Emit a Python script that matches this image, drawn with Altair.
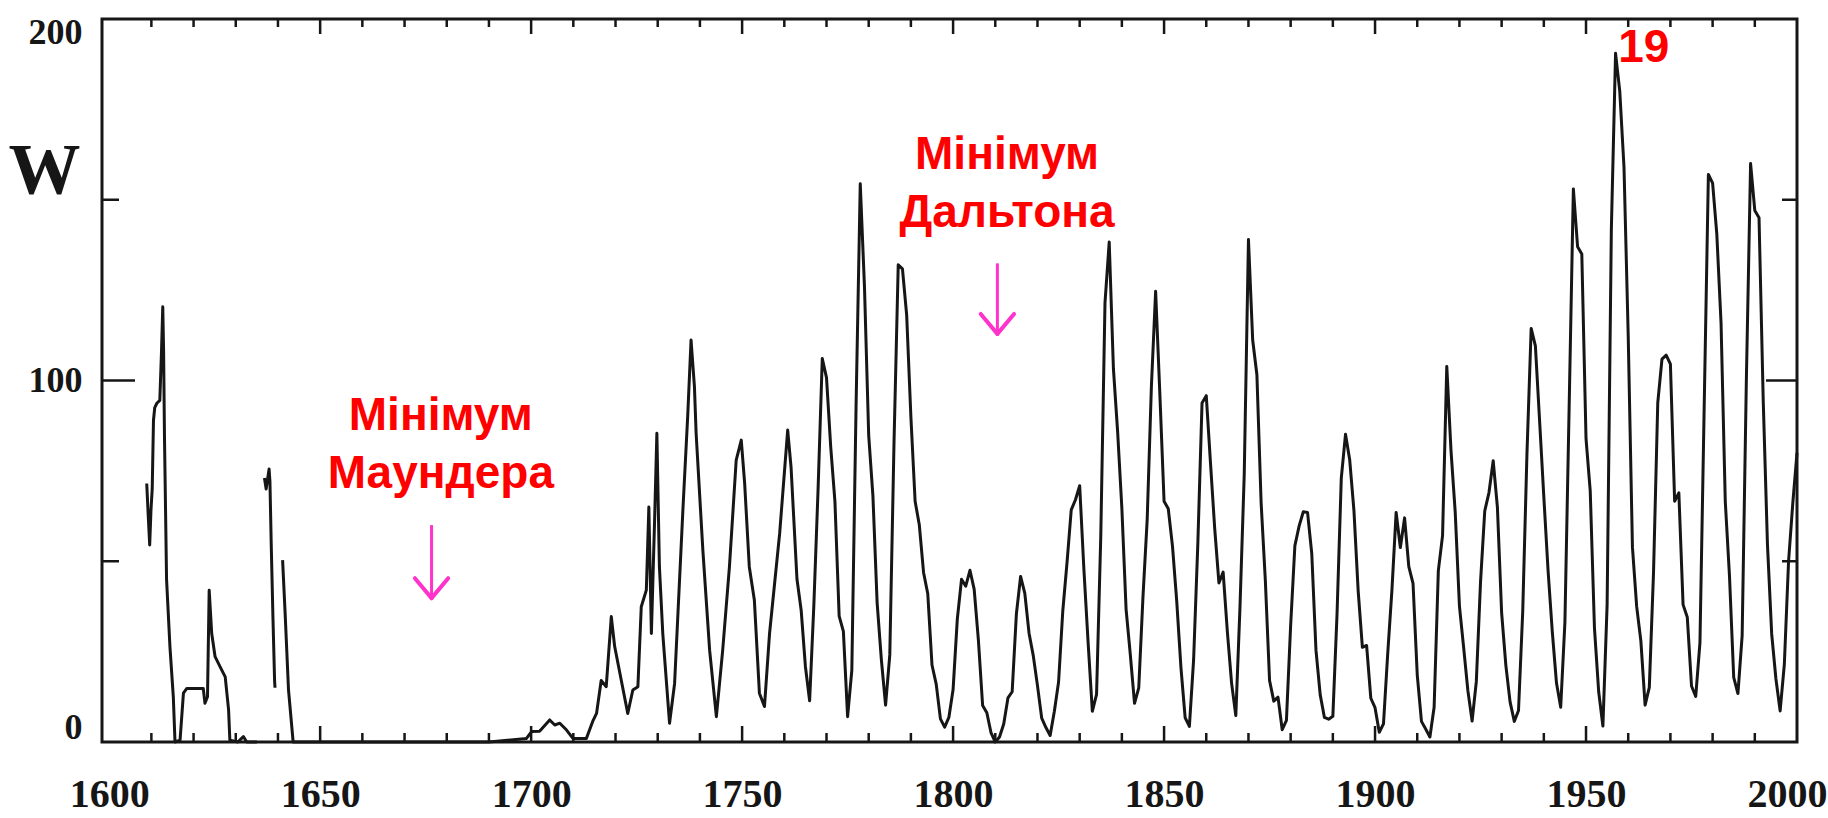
import altair as alt
import pandas as pd

# ---- sunspot (Wolf) numbers ----
# early fragmentary record, fractional years; three separate pieces
piece1_year = [1608.9, 1609.2, 1609.6, 1609.9, 1610.2, 1610.5, 1610.8, 1611.3, 1612.0,
               1612.4, 1612.7, 1612.9, 1613.1, 1613.6, 1614.4, 1615.2, 1615.6, 1616.8,
               1617.6, 1618.4, 1622.3, 1622.7, 1623.3, 1623.7, 1624.3, 1625.1, 1626.3,
               1627.5, 1628.3, 1628.6, 1630.5, 1631.8, 1632.6, 1635.0]
piece1_w = [71.5, 64, 54.5, 64, 70, 89, 92.5, 93.7, 94.5,
            108, 120.4, 108, 85, 45, 26.4, 12.5, 0, 0.5,
            13.5, 14.8, 14.8, 10.7, 12.5, 42, 30, 23.6, 20.8,
            18, 8.9, 0.5, 0, 1.5, 0, 0]

piece2_year = [1636.8, 1637.2, 1637.9, 1638.1, 1638.4, 1638.8, 1639.2, 1639.3]
piece2_w = [73, 70, 75.5, 72, 55, 35, 17, 15]

piece3_year = [1641.1, 1641.7, 1642.5, 1643.6, 1650, 1660, 1670, 1680, 1690, 1698.9,
               1700.1, 1702.0, 1704.4, 1705.6, 1706.8, 1708.4, 1709.9, 1713.1, 1714.7,
               1715.5, 1716.6, 1717.8, 1719.0, 1719.8, 1722.9, 1724.1, 1725.3, 1726.1,
               1727.3, 1727.9, 1728.5, 1729.3, 1729.8, 1730.4, 1731.2, 1732.8, 1734.0,
               1736.0, 1737.1, 1737.9, 1738.7, 1739.1, 1740.7, 1742.3, 1743.9, 1745.4,
               1747.0, 1748.6, 1749.8, 1750.6, 1751.7, 1752.9, 1754.1, 1755.3, 1756.5,
               1758.9, 1760.8, 1761.6]
piece3_w = [50.3, 35.6, 14.4, 0, 0, 0, 0, 0, 0, 1,
            2.9, 3, 6.1, 4.7, 5.2, 3.3, 1, 1, 6,
            7.9, 17, 15.3, 34.7, 26.4, 7.9, 14.4, 15.3, 37.4,
            42, 65, 30, 63, 85.4, 48.5, 30, 5.2, 16.2,
            65, 90, 111.2, 98.3, 85.4, 53, 25.4, 7, 25.4,
            48.5, 78, 83.5, 71.6, 48.5, 39.3, 13.5, 9.8, 30,
            57.7, 86.3, 76]

# annual means 1763-2000
annual_year = list(range(1763, 2001))
annual_w = [
    45.1, 36.4, 20.9, 11.4, 37.8, 69.8, 106.1, 100.8, 81.6, 66.5,   # 1763-1772
    34.8, 30.6, 7.0, 19.8, 92.5, 154.4, 125.9, 84.8, 68.1, 38.5,    # 1773-1782
    22.8, 10.2, 24.1, 82.9, 132.0, 130.9, 118.1, 89.9, 66.6, 60.0,  # 1783-1792
    46.9, 41.0, 21.3, 16.0, 6.4, 4.1, 6.8, 14.5, 34.0, 45.0,        # 1793-1802
    43.1, 47.5, 42.2, 28.1, 10.1, 8.1, 2.5, 0.0, 1.4, 5.0,          # 1803-1812
    12.2, 13.9, 35.4, 45.8, 41.1, 30.1, 23.9, 15.6, 6.6, 4.0,       # 1813-1822
    1.8, 8.5, 16.6, 36.3, 49.6, 64.2, 67.0, 70.9, 47.8, 27.5,       # 1823-1832
    8.5, 13.2, 56.9, 121.5, 138.3, 103.2, 85.7, 64.6, 36.7, 24.2,   # 1833-1842
    10.7, 15.0, 40.1, 61.5, 98.5, 124.7, 96.3, 66.6, 64.5, 54.1,    # 1843-1852
    39.0, 20.6, 6.7, 4.3, 22.7, 54.8, 93.8, 95.8, 77.2, 59.1,       # 1853-1862
    44.0, 47.0, 30.5, 16.3, 7.3, 37.6, 74.0, 139.0, 111.2, 101.6,   # 1863-1872
    66.2, 44.7, 17.0, 11.3, 12.4, 3.4, 6.0, 32.3, 54.3, 59.7,       # 1873-1882
    63.7, 63.5, 52.2, 25.4, 13.1, 6.8, 6.3, 7.1, 35.6, 73.0,        # 1883-1892
    85.1, 78.0, 64.0, 41.8, 26.2, 26.7, 12.1, 9.5, 2.7, 5.0,        # 1893-1902
    24.4, 42.0, 63.5, 53.8, 62.0, 48.5, 43.9, 18.6, 5.7, 3.6,       # 1903-1912
    1.4, 9.6, 47.4, 57.1, 103.9, 80.6, 63.6, 37.6, 26.1, 14.2,      # 1913-1922
    5.8, 16.7, 44.3, 63.9, 69.0, 77.8, 64.9, 35.7, 21.2, 11.1,      # 1923-1932
    5.7, 8.7, 36.1, 79.7, 114.4, 109.6, 88.8, 67.8, 47.5, 30.6,     # 1933-1942
    16.3, 9.6, 33.2, 92.6, 153.0, 137.0, 135.0, 83.9, 69.4, 31.5,   # 1943-1952
    13.9, 4.4, 38.0, 141.7, 190.5, 180.0, 159.0, 112.3, 53.9, 37.5, # 1953-1962
    27.9, 10.2, 15.1, 47.0, 93.8, 105.9, 107.0, 104.5, 66.6, 68.9,  # 1963-1972
    38.0, 34.5, 15.5, 12.6, 27.5, 92.5, 157.0, 154.6, 140.4, 115.9, # 1973-1982
    66.6, 45.9, 17.9, 13.4, 29.4, 100.2, 160.0, 147.0, 145.0, 94.3, # 1983-1992
    54.6, 29.9, 17.5, 8.6, 21.5, 50.0, 66.0, 80.0,                  # 1993-2000
]

# axis labels
x_labels = [1600, 1650, 1700, 1750, 1800, 1850, 1900, 1950, 2000]
y_labels = [0, 100, 200]
x_minor_ticks = [y for y in range(1610, 2000, 10) if y % 50 != 0]
x_major_ticks = [1650, 1700, 1750, 1800, 1850, 1900, 1950]
y_minor_ticks = [50, 150]
y_major_ticks = [100]

# annotations
note_text = ["Мінімум", "Маундера", "Мінімум", "Дальтона", "19"]
note_year = [1678.6, 1678.6, 1812.8, 1812.8, 1963.7]
note_w = [90.3, 74.2, 162.4, 146.4, 192.1]

arrow_year = [1676.4, 1810.5]
arrow_top = [60.0, 132.4]
arrow_tip = [39.8, 112.9]

# ---- tables ----
rows = []
pieces = [(piece1_year, piece1_w),
          (piece2_year, piece2_w),
          (piece3_year + annual_year, piece3_w + annual_w)]
for pid, (ys, ws) in enumerate(pieces):
    for i, (yr, w) in enumerate(zip(ys, ws)):
        rows.append({"year": yr, "w": w, "piece": pid, "i": i})
series = pd.DataFrame(rows)

notes = pd.DataFrame({"label": note_text, "year": note_year, "w": note_w})

HEAD_DX = 3.95   # arrow head half width, years
HEAD_DY = 5.5    # arrow head length, W units
shafts = pd.DataFrame({"year": arrow_year, "top": arrow_top, "tip": arrow_tip})
heads = pd.DataFrame(
    [{"x0": yr + s * HEAD_DX, "y0": tip + HEAD_DY, "x1": yr, "y1": tip}
     for yr, tip in zip(arrow_year, arrow_tip) for s in (-1, 1)]
)

W, H = 1695, 723
INK = "#161616"
PINK = "#ff33cc"

x_scale = alt.Scale(domain=[1598.3, 2000], nice=False, zero=False)
y_scale = alt.Scale(domain=[0, 200], nice=False)

x_axis = alt.Axis(values=x_labels, format="d", labelFont="Liberation Serif",
                  labelFontWeight="bold", labelFontSize=40, labelColor=INK,
                  labelPadding=32, ticks=False, tickSize=0, domain=False, grid=False,
                  labelFlush=True, labelFlushOffset=30, title=None)
y_axis = alt.Axis(values=y_labels, format="d", labelFont="Liberation Serif",
                  labelFontWeight="bold", labelFontSize=36, labelColor=INK,
                  labelPadding=20, ticks=False, tickSize=0, domain=False, grid=False,
                  labelFlush=True, labelFlushOffset=4,
                  title="W", titleAngle=0, titleX=-58, titleY=151,
                  titleFont="Liberation Serif", titleFontWeight="bold",
                  titleFontSize=72, titleColor=INK, titleAlign="center",
                  titleBaseline="middle")

line = alt.Chart(series).mark_line(color=INK, strokeWidth=3, strokeJoin="round").encode(
    x=alt.X("year:Q", scale=x_scale, axis=x_axis),
    y=alt.Y("w:Q", scale=y_scale, axis=y_axis),
    detail="piece:N",
    order="i:Q",
)

def xticks(values, length, top):
    d = pd.DataFrame({"year": values})
    if top:
        enc = dict(y=alt.value(0), y2=alt.value(length))
    else:
        enc = dict(y=alt.value(H), y2=alt.value(H - length))
    return alt.Chart(d).mark_rule(color=INK, strokeWidth=2.5).encode(
        x=alt.X("year:Q", scale=x_scale), **enc)

def yticks(values, length, right):
    d = pd.DataFrame({"w": values})
    if right:
        enc = dict(x=alt.value(W), x2=alt.value(W - length))
    else:
        enc = dict(x=alt.value(0), x2=alt.value(length))
    return alt.Chart(d).mark_rule(color=INK, strokeWidth=2.5).encode(
        y=alt.Y("w:Q", scale=y_scale), **enc)

ticks = [
    xticks(x_minor_ticks, 9, False), xticks(x_major_ticks, 16, False),
    xticks(x_minor_ticks, 8, True), xticks(x_major_ticks, 15, True),
    yticks(y_minor_ticks, 17, False), yticks(y_major_ticks, 33, False),
    yticks(y_minor_ticks, 15, True), yticks(y_major_ticks, 31, True),
]

labels = alt.Chart(notes).mark_text(
    font="Liberation Sans", fontWeight="bold", fontSize=46, color="#ff0000",
    align="center", baseline="middle"
).encode(
    x=alt.X("year:Q", scale=x_scale),
    y=alt.Y("w:Q", scale=y_scale),
    text="label:N",
)

shaft = alt.Chart(shafts).mark_rule(color=PINK, strokeWidth=3).encode(
    x=alt.X("year:Q", scale=x_scale),
    y=alt.Y("top:Q", scale=y_scale),
    y2="tip:Q",
)
head = alt.Chart(heads).mark_rule(color=PINK, strokeWidth=4, strokeCap="round").encode(
    x=alt.X("x0:Q", scale=x_scale),
    x2="x1:Q",
    y=alt.Y("y0:Q", scale=y_scale),
    y2="y1:Q",
)

chart = alt.layer(line, *ticks, labels, shaft, head).properties(
    width=W, height=H,
    padding={"left": 102, "top": 19, "right": 31, "bottom": 76},
    autosize=alt.AutoSizeParams(type="none"),
    background="white",
).configure_view(stroke=INK, strokeWidth=3)

chart.save("out.html", embed_options={"renderer": "svg", "actions": False})
